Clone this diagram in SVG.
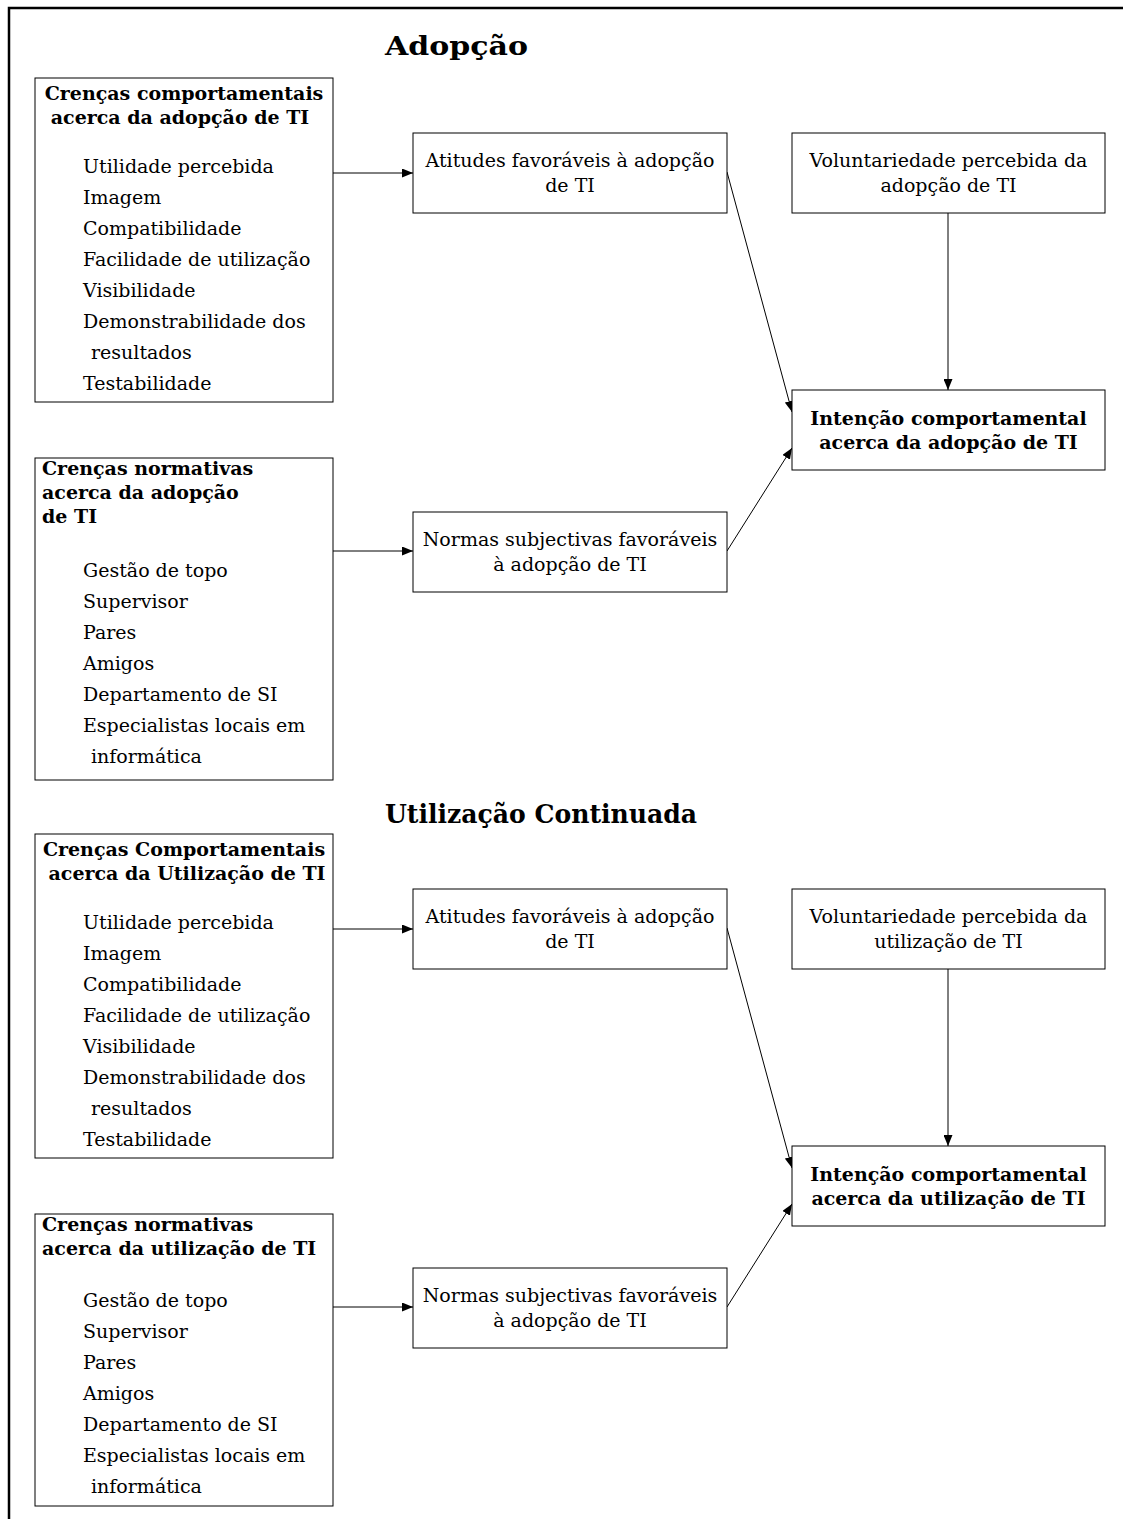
<svg xmlns="http://www.w3.org/2000/svg" width="1123" height="1519" viewBox="0 0 1123 1519">
  <style>
    .box { fill: #fff; stroke: #000; stroke-width: 1; }
    .t { font-family: "DejaVu Serif", "Liberation Serif", serif; font-size: 19px; fill: #000; }
    .b { font-weight: bold; }
    .c { text-anchor: middle; }
    .title { font-family: "DejaVu Serif", "Liberation Serif", serif; font-size: 26px; font-weight: bold; fill: #000; }
    .edge { stroke: #000; stroke-width: 1; fill: none; marker-end: url(#arr); }
    .frame { stroke: #000; stroke-width: 2.5; fill: none; }
  </style>
  <defs>
    <marker id="arr" markerUnits="userSpaceOnUse" markerWidth="11" markerHeight="9" refX="11" refY="4.5" orient="auto">
      <path d="M0,0 L11,4.5 L0,9 z" fill="#000"/>
    </marker>
  </defs>

  <rect width="1123" height="1519" fill="#fff"/>
  <path class="frame" d="M9,1519 V8 H1123"/>

  <!-- section titles -->
  <text class="title" x="385" y="55" textLength="143" lengthAdjust="spacingAndGlyphs">Adopção</text>
  <text class="title" x="385" y="823" textLength="312" lengthAdjust="spacingAndGlyphs">Utilização Continuada</text>

  <!-- connectors -->
  <g id="connectors">
    <path class="edge" d="M333,173 H413"/>
    <path class="edge" d="M333,551 H413"/>
    <path class="edge" d="M727,172 L792,412"/>
    <path class="edge" d="M727,551 L792,448"/>
    <path class="edge" d="M948,213 V390"/>
    <path class="edge" d="M333,929 H413"/>
    <path class="edge" d="M333,1307 H413"/>
    <path class="edge" d="M727,928 L792,1168"/>
    <path class="edge" d="M727,1307 L792,1204"/>
    <path class="edge" d="M948,969 V1146"/>
  </g>

  <!-- adoption: behavioural beliefs -->
  <g id="crencas-comportamentais-adopcao">
    <rect class="box" x="35" y="78" width="298" height="324"/>
    <text class="t b c" x="184" y="100">Crenças comportamentais</text>
    <text class="t b c" x="180" y="124">acerca da adopção de TI</text>
    <text class="t" x="83" y="173">Utilidade percebida</text>
    <text class="t" x="83" y="204">Imagem</text>
    <text class="t" x="83" y="235">Compatibilidade</text>
    <text class="t" x="83" y="266">Facilidade de utilização</text>
    <text class="t" x="83" y="297">Visibilidade</text>
    <text class="t" x="83" y="328">Demonstrabilidade dos</text>
    <text class="t" x="91" y="359">resultados</text>
    <text class="t" x="83" y="390">Testabilidade</text>
  </g>

  <!-- adoption: normative beliefs -->
  <g id="crencas-normativas-adopcao">
    <rect class="box" x="35" y="458" width="298" height="322"/>
    <text class="t b" x="42" y="475">Crenças normativas</text>
    <text class="t b" x="42" y="499">acerca da adopção</text>
    <text class="t b" x="42" y="523">de TI</text>
    <text class="t" x="83" y="577">Gestão de topo</text>
    <text class="t" x="83" y="608">Supervisor</text>
    <text class="t" x="83" y="639">Pares</text>
    <text class="t" x="83" y="670">Amigos</text>
    <text class="t" x="83" y="701">Departamento de SI</text>
    <text class="t" x="83" y="732">Especialistas locais em</text>
    <text class="t" x="91" y="763">informática</text>
  </g>

  <g id="atitudes-adopcao">
    <rect class="box" x="413" y="133" width="314" height="80"/>
    <text class="t c" x="570" y="167">Atitudes favoráveis à adopção</text>
    <text class="t c" x="570" y="192">de TI</text>
  </g>

  <g id="normas-adopcao">
    <rect class="box" x="413" y="512" width="314" height="80"/>
    <text class="t c" x="570" y="546">Normas subjectivas favoráveis</text>
    <text class="t c" x="570" y="571">à adopção de TI</text>
  </g>

  <g id="voluntariedade-adopcao">
    <rect class="box" x="792" y="133" width="313" height="80"/>
    <text class="t c" x="948.5" y="167">Voluntariedade percebida da</text>
    <text class="t c" x="948.5" y="192">adopção de TI</text>
  </g>

  <g id="intencao-adopcao">
    <rect class="box" x="792" y="390" width="313" height="80"/>
    <text class="t b c" x="948.5" y="425">Intenção comportamental</text>
    <text class="t b c" x="948.5" y="449">acerca da adopção de TI</text>
  </g>

  <!-- continued use: behavioural beliefs -->
  <g id="crencas-comportamentais-utilizacao">
    <rect class="box" x="35" y="834" width="298" height="324"/>
    <text class="t b c" x="184" y="856">Crenças Comportamentais</text>
    <text class="t b c" x="187" y="880">acerca da Utilização de TI</text>
    <text class="t" x="83" y="929">Utilidade percebida</text>
    <text class="t" x="83" y="960">Imagem</text>
    <text class="t" x="83" y="991">Compatibilidade</text>
    <text class="t" x="83" y="1022">Facilidade de utilização</text>
    <text class="t" x="83" y="1053">Visibilidade</text>
    <text class="t" x="83" y="1084">Demonstrabilidade dos</text>
    <text class="t" x="91" y="1115">resultados</text>
    <text class="t" x="83" y="1146">Testabilidade</text>
  </g>

  <!-- continued use: normative beliefs -->
  <g id="crencas-normativas-utilizacao">
    <rect class="box" x="35" y="1214" width="298" height="292"/>
    <text class="t b" x="42" y="1231">Crenças normativas</text>
    <text class="t b" x="42" y="1255">acerca da utilização de TI</text>
    <text class="t" x="83" y="1307">Gestão de topo</text>
    <text class="t" x="83" y="1338">Supervisor</text>
    <text class="t" x="83" y="1369">Pares</text>
    <text class="t" x="83" y="1400">Amigos</text>
    <text class="t" x="83" y="1431">Departamento de SI</text>
    <text class="t" x="83" y="1462">Especialistas locais em</text>
    <text class="t" x="91" y="1493">informática</text>
  </g>

  <g id="atitudes-utilizacao">
    <rect class="box" x="413" y="889" width="314" height="80"/>
    <text class="t c" x="570" y="923">Atitudes favoráveis à adopção</text>
    <text class="t c" x="570" y="948">de TI</text>
  </g>

  <g id="normas-utilizacao">
    <rect class="box" x="413" y="1268" width="314" height="80"/>
    <text class="t c" x="570" y="1302">Normas subjectivas favoráveis</text>
    <text class="t c" x="570" y="1327">à adopção de TI</text>
  </g>

  <g id="voluntariedade-utilizacao">
    <rect class="box" x="792" y="889" width="313" height="80"/>
    <text class="t c" x="948.5" y="923">Voluntariedade percebida da</text>
    <text class="t c" x="948.5" y="948">utilização de TI</text>
  </g>

  <g id="intencao-utilizacao">
    <rect class="box" x="792" y="1146" width="313" height="80"/>
    <text class="t b c" x="948.5" y="1181">Intenção comportamental</text>
    <text class="t b c" x="948.5" y="1205">acerca da utilização de TI</text>
  </g>
</svg>
